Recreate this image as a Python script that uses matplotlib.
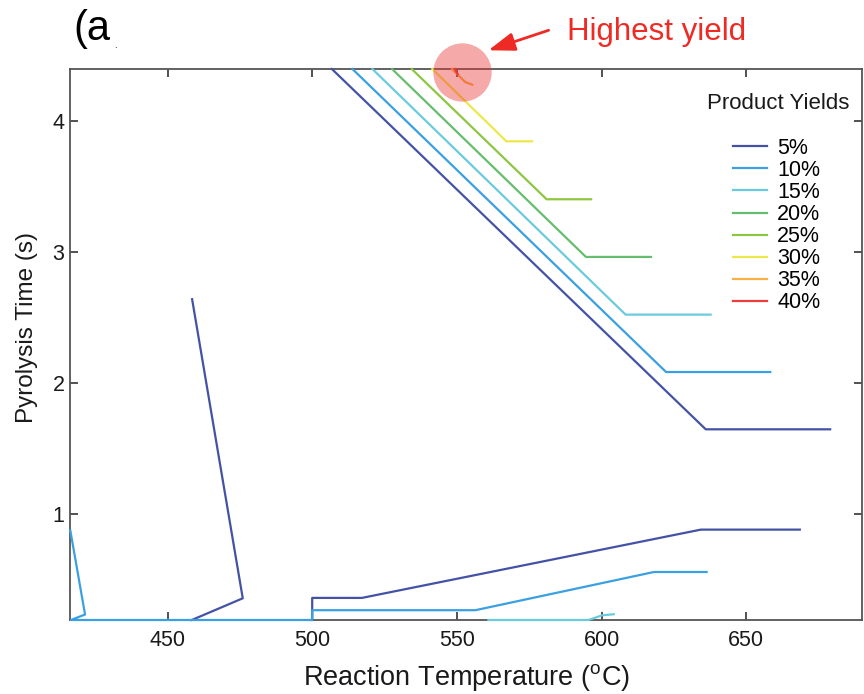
import matplotlib
matplotlib.use("Agg")
import matplotlib.pyplot as plt

plt.rcParams['font.family'] = ['Liberation Sans', 'DejaVu Sans']
plt.rcParams['mathtext.fontset'] = 'custom'
plt.rcParams['mathtext.rm'] = 'Liberation Sans'

# yield contours: each level is a list of (temperature, time) polylines
yield_labels = ['5%', '10%', '15%', '20%', '25%', '30%', '35%', '40%']

contour_5 = [
    ([506.8, 636.0, 679.0], [4.40, 1.645, 1.645]),
    ([458.5, 476.0, 458.4], [2.64, 0.353, 0.187]),
    ([500.0, 500.0, 517.2, 634.3, 668.5], [0.187, 0.356, 0.356, 0.878, 0.878]),
]
contour_10 = [
    ([513.9, 622.3, 658.3], [4.40, 2.083, 2.083]),
    ([416.4, 421.5, 416.6, 500.0, 500.0, 556.4, 618.1, 636.3],
     [0.873, 0.229, 0.187, 0.187, 0.262, 0.262, 0.554, 0.554]),
]
contour_15 = [
    ([520.8, 608.3, 637.7], [4.40, 2.522, 2.522]),
    ([560.9, 595.5, 600.2, 604.2], [0.187, 0.187, 0.223, 0.231]),
]
contour_20 = [([527.6, 594.6, 617.1], [4.40, 2.963, 2.963])]
contour_25 = [([534.4, 581.0, 596.4], [4.40, 3.404, 3.404])]
contour_30 = [([541.5, 567.1, 576.0], [4.40, 3.847, 3.847])]
contour_35 = [([548.3, 552.9, 555.3], [4.40, 4.30, 4.28])]
contour_40 = [([549.3, 550.3], [4.40, 4.36])]

contours = [contour_5, contour_10, contour_15, contour_20,
            contour_25, contour_30, contour_35, contour_40]

line_colors = ['#4452A6', '#3AA0E2', '#6ACBDD', '#66BD6E',
               '#8DC641', '#EDE84A', '#F7B045', '#EE3B3B']

# best point and the callout
best_temp, best_time = 551.9, 4.375

fig = plt.figure(figsize=(8.64, 6.94), dpi=100)
ax = fig.add_axes([70 / 864, 74 / 694, 792 / 864, 551 / 694])

handles = []
for segs, col, lab in zip(contours, line_colors, yield_labels):
    for i, (xs, ys) in enumerate(segs):
        ln, = ax.plot(xs, ys, color=col, lw=1.6, clip_on=False, zorder=3)
        if i == 0:
            ln.set_label(lab)
            handles.append(ln)

ax.plot([best_temp], [best_time], 'o', ms=42, mew=0, color=(0.92, 0.2, 0.2),
        alpha=0.42, clip_on=False, zorder=5)

red = '#EE2A24'
ax.annotate('', xy=(560.9, 4.543), xytext=(581.7, 4.696),
            xycoords='data', annotation_clip=False,
            arrowprops=dict(arrowstyle='-|>,head_length=0.8,head_width=0.28',
                            mutation_scale=20, color=red, lw=2, shrinkA=0, shrinkB=0))
ax.text(588.2, 4.619, 'Highest yield', color=red, fontsize=22.5,
        va='baseline', ha='left', clip_on=False)

ax.set_xlim(416.3, 690)
ax.set_ylim(0.187, 4.40)
ax.set_xticks([450, 500, 550, 600, 650])
ax.set_yticks([1, 2, 3, 4])

for sp in ax.spines.values():
    sp.set_color('#555555')
    sp.set_linewidth(1.3)
ax.tick_params(direction='in', top=True, right=True, length=6, width=1.2,
               color='#333333', labelsize=15.5, labelcolor='#1a1a1a')
ax.tick_params(axis='x', pad=7)
ax.tick_params(axis='y', pad=4)

ax.set_xlabel(r'Reaction Temperature ($^{\mathrm{o}}$C)', fontsize=19.5, color='#1a1a1a',
              labelpad=8)
ax.set_ylabel('Pyrolysis Time (s)', fontsize=17.5, color='#1a1a1a')
ax.yaxis.set_label_coords(-0.040, 0.53)

ax.text(0.894, 0.937, 'Product Yields', transform=ax.transAxes, fontsize=16,
        ha='center', va='center', color='#1a1a1a')
ax.legend(handles=handles, loc='upper left', bbox_to_anchor=(0.837, 0.875),
          frameon=False, fontsize=15.5, handlelength=1.6, handletextpad=0.45,
          labelspacing=0.05, borderpad=0, borderaxespad=0)

fig.text(73 / 864, 1 - 40 / 694, '(a', fontsize=30, va='baseline', ha='left')
fig.text(114 / 864, 1 - 48 / 694, '.', fontsize=7, va='baseline', ha='left')

fig.savefig('out.png', dpi=100)
